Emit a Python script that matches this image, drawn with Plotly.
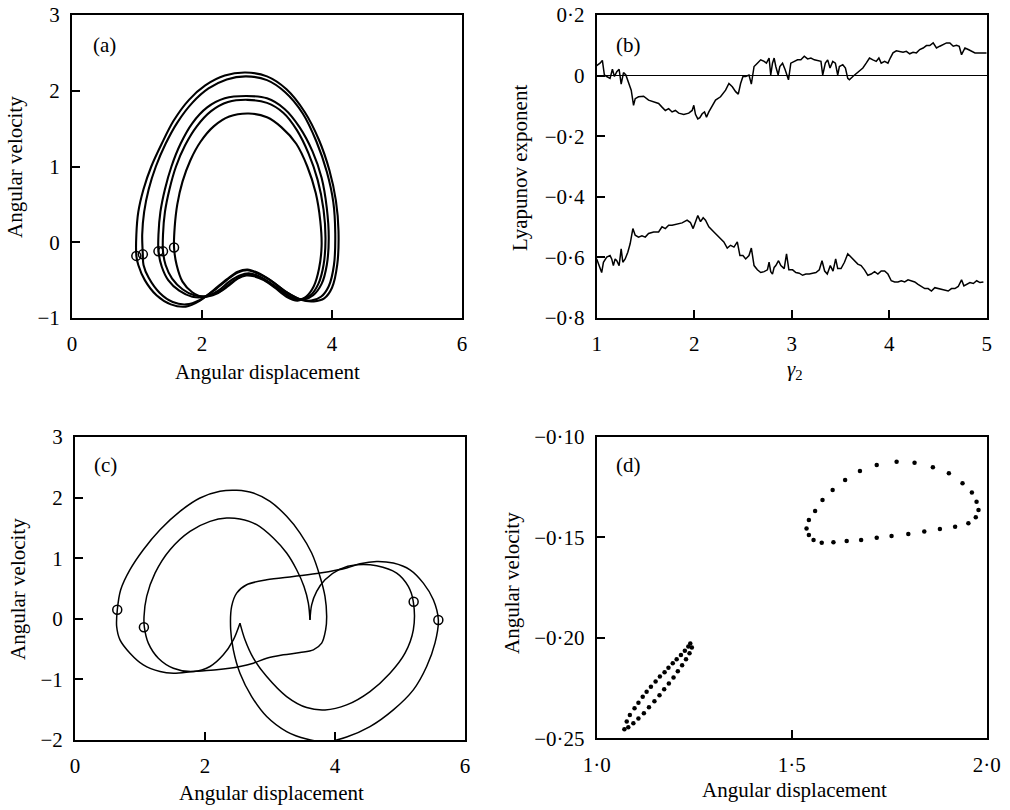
import plotly.graph_objects as go

# ---------------- data ----------------
# (a) phase portrait: five nested loops + Poincare points
a1_x = [0.99,0.99,1.02,1.10,1.22,1.38,1.56,1.80,2.05,2.35,2.67,3.00,3.30,3.58,3.80,3.96,4.06,4.10,4.08,4.00,3.88,3.72,3.52,3.30,3.05,2.85,2.70,2.55,2.38,2.18,1.97,1.75,1.52,1.30,1.12,1.02,0.99]
a1_y = [-0.18,0.10,0.40,0.70,1.00,1.30,1.60,1.88,2.07,2.20,2.24,2.19,2.02,1.72,1.35,0.95,0.55,0.15,-0.30,-0.60,-0.74,-0.78,-0.76,-0.66,-0.50,-0.40,-0.36,-0.39,-0.49,-0.63,-0.77,-0.85,-0.82,-0.70,-0.50,-0.30,-0.18]
a2_x = [1.09,1.08,1.11,1.18,1.29,1.44,1.62,1.85,2.10,2.38,2.68,3.00,3.28,3.55,3.76,3.92,4.02,4.05,4.03,3.95,3.83,3.68,3.50,3.30,3.05,2.85,2.70,2.55,2.38,2.18,1.97,1.76,1.55,1.35,1.18,1.10,1.09]
a2_y = [-0.17,0.10,0.40,0.70,1.00,1.30,1.58,1.84,2.03,2.15,2.19,2.14,1.98,1.70,1.33,0.93,0.53,0.12,-0.30,-0.58,-0.72,-0.77,-0.75,-0.66,-0.50,-0.41,-0.37,-0.40,-0.50,-0.64,-0.76,-0.82,-0.79,-0.67,-0.47,-0.30,-0.17]
a3_x = [1.33,1.33,1.36,1.43,1.53,1.67,1.85,2.08,2.35,2.68,3.00,3.27,3.50,3.70,3.84,3.92,3.95,3.92,3.84,3.71,3.56,3.40,3.22,3.02,2.85,2.72,2.58,2.42,2.25,2.05,1.85,1.65,1.48,1.38,1.33]
a3_y = [-0.12,0.10,0.40,0.70,1.00,1.30,1.57,1.78,1.90,1.93,1.90,1.76,1.52,1.20,0.85,0.45,0.05,-0.30,-0.55,-0.70,-0.76,-0.74,-0.64,-0.52,-0.44,-0.41,-0.44,-0.52,-0.64,-0.72,-0.72,-0.64,-0.50,-0.32,-0.12]
a4_x = [1.40,1.40,1.43,1.50,1.60,1.74,1.92,2.14,2.40,2.70,3.00,3.25,3.46,3.64,3.78,3.87,3.90,3.87,3.79,3.67,3.53,3.38,3.22,3.02,2.86,2.73,2.60,2.44,2.27,2.07,1.88,1.70,1.54,1.44,1.40]
a4_y = [-0.12,0.10,0.40,0.70,1.00,1.28,1.53,1.73,1.85,1.88,1.84,1.71,1.48,1.17,0.82,0.43,0.05,-0.30,-0.55,-0.70,-0.75,-0.73,-0.65,-0.53,-0.45,-0.42,-0.45,-0.54,-0.65,-0.71,-0.70,-0.62,-0.48,-0.30,-0.12]
a5_x = [1.57,1.58,1.62,1.70,1.82,1.98,2.18,2.42,2.72,3.00,3.22,3.45,3.62,3.75,3.82,3.84,3.80,3.72,3.60,3.47,3.30,3.12,2.95,2.80,2.68,2.55,2.40,2.22,2.02,1.85,1.70,1.61,1.57]
a5_y = [-0.07,0.20,0.50,0.80,1.08,1.33,1.53,1.66,1.70,1.65,1.52,1.30,1.00,0.65,0.28,-0.05,-0.35,-0.58,-0.72,-0.77,-0.72,-0.60,-0.50,-0.45,-0.44,-0.48,-0.58,-0.68,-0.72,-0.66,-0.52,-0.30,-0.07]
a_pts_x = [0.99, 1.09, 1.33, 1.40, 1.57]
a_pts_y = [-0.18, -0.16, -0.12, -0.12, -0.07]

# (b) Lyapunov exponents vs gamma_2
b_gamma = [1.000,1.034,1.058,1.079,1.103,1.137,1.161,1.182,1.206,1.230,1.251,1.275,1.299,1.326,1.354,1.378,1.395,1.429,1.481,1.532,1.584,1.635,1.670,1.704,1.738,1.773,1.807,1.841,1.893,1.944,1.979,1.996,2.013,2.037,2.058,2.082,2.106,2.126,2.150,2.185,2.219,2.270,2.322,2.356,2.391,2.425,2.452,2.476,2.500,2.528,2.562,2.586,2.614,2.648,2.682,2.717,2.741,2.768,2.785,2.803,2.820,2.837,2.861,2.878,2.906,2.933,2.967,2.991,3.026,3.060,3.094,3.129,3.163,3.197,3.232,3.266,3.300,3.318,3.345,3.369,3.393,3.421,3.448,3.472,3.489,3.524,3.551,3.575,3.592,3.627,3.661,3.695,3.730,3.764,3.798,3.833,3.867,3.894,3.918,3.953,3.987,4.011,4.039,4.073,4.107,4.142,4.176,4.210,4.245,4.279,4.313,4.348,4.382,4.416,4.451,4.485,4.519,4.554,4.588,4.622,4.657,4.691,4.718,4.742,4.777,4.811,4.845,4.880,4.931,5.000]
b_upper = [0.033,0.041,0.050,0.002,-0.003,-0.009,0.021,-0.003,0.013,0.021,-0.028,0.010,0.002,-0.020,-0.048,-0.098,-0.076,-0.070,-0.068,-0.081,-0.087,-0.092,-0.104,-0.115,-0.109,-0.120,-0.115,-0.124,-0.128,-0.124,-0.115,-0.098,-0.128,-0.143,-0.139,-0.126,-0.120,-0.137,-0.120,-0.098,-0.081,-0.070,-0.048,-0.026,-0.037,-0.053,-0.061,-0.026,-0.003,-0.003,0.002,-0.028,0.030,0.041,0.052,0.047,0.041,0.058,0.002,0.041,0.058,0.030,0.002,0.030,0.041,0.019,-0.014,0.041,0.047,0.052,0.052,0.064,0.055,0.058,0.052,0.049,0.047,0.002,0.041,0.052,0.025,0.047,0.041,0.002,0.030,0.036,0.025,-0.009,-0.014,-0.003,0.006,0.013,0.025,0.041,0.058,0.052,0.047,0.058,0.041,0.047,0.041,0.058,0.075,0.082,0.080,0.077,0.080,0.072,0.077,0.075,0.086,0.091,0.099,0.099,0.108,0.091,0.097,0.103,0.108,0.108,0.097,0.100,0.097,0.069,0.091,0.086,0.080,0.075,0.075,0.075]
b_gamma_low = [1.000,1.024,1.051,1.069,1.103,1.137,1.154,1.171,1.189,1.206,1.230,1.251,1.268,1.292,1.319,1.343,1.371,1.395,1.429,1.464,1.498,1.532,1.584,1.635,1.670,1.704,1.738,1.773,1.824,1.876,1.927,1.961,1.989,2.013,2.037,2.065,2.092,2.116,2.150,2.202,2.253,2.304,2.339,2.373,2.408,2.442,2.469,2.500,2.528,2.562,2.586,2.614,2.648,2.682,2.717,2.751,2.768,2.785,2.803,2.820,2.837,2.865,2.889,2.923,2.947,2.971,3.009,3.043,3.077,3.112,3.146,3.180,3.215,3.249,3.283,3.311,3.338,3.365,3.396,3.424,3.451,3.472,3.506,3.541,3.575,3.609,3.644,3.678,3.712,3.747,3.781,3.815,3.850,3.884,3.918,3.953,3.987,4.021,4.056,4.090,4.124,4.159,4.193,4.227,4.262,4.296,4.330,4.365,4.399,4.433,4.468,4.502,4.536,4.571,4.605,4.639,4.674,4.708,4.742,4.766,4.794,4.828,4.863,4.897,4.931,4.966,5.000]
b_lower = [-0.605,-0.627,-0.650,-0.616,-0.599,-0.594,-0.605,-0.627,-0.605,-0.611,-0.627,-0.572,-0.616,-0.605,-0.583,-0.555,-0.505,-0.527,-0.533,-0.529,-0.533,-0.521,-0.516,-0.516,-0.499,-0.505,-0.494,-0.494,-0.491,-0.486,-0.477,-0.485,-0.505,-0.480,-0.462,-0.482,-0.469,-0.477,-0.499,-0.516,-0.533,-0.549,-0.569,-0.560,-0.566,-0.549,-0.594,-0.594,-0.605,-0.594,-0.569,-0.627,-0.641,-0.650,-0.647,-0.641,-0.616,-0.647,-0.655,-0.633,-0.627,-0.611,-0.627,-0.637,-0.588,-0.641,-0.641,-0.650,-0.652,-0.659,-0.655,-0.655,-0.652,-0.650,-0.641,-0.611,-0.645,-0.655,-0.627,-0.645,-0.605,-0.637,-0.637,-0.616,-0.588,-0.599,-0.611,-0.622,-0.627,-0.641,-0.659,-0.655,-0.647,-0.655,-0.645,-0.645,-0.655,-0.677,-0.681,-0.681,-0.677,-0.681,-0.674,-0.677,-0.681,-0.689,-0.696,-0.703,-0.703,-0.711,-0.700,-0.703,-0.705,-0.708,-0.711,-0.703,-0.703,-0.696,-0.674,-0.694,-0.689,-0.683,-0.686,-0.677,-0.683,-0.681]

# (c) phase portrait: outer loops A, A2 and inner cusped loop B
cA_x = [0.651,0.703,0.846,1.051,1.308,1.615,1.923,2.231,2.487,2.744,3.000,3.256,3.462,3.641,3.769,3.846,3.872,3.856,3.795,3.667,3.462,3.205,2.949,2.744,2.538,2.179,1.821,1.513,1.308,1.051,0.846,0.692,0.641,0.651]
cA_y = [0.149,0.479,0.810,1.140,1.470,1.773,1.993,2.104,2.120,2.076,1.938,1.691,1.415,1.085,0.699,0.369,0.039,-0.182,-0.402,-0.512,-0.556,-0.595,-0.650,-0.732,-0.787,-0.842,-0.870,-0.898,-0.870,-0.760,-0.567,-0.347,-0.127,0.149]
cA2_x = [5.590,5.538,5.410,5.205,4.897,4.538,4.179,3.872,3.564,3.256,2.949,2.718,2.538,2.436,2.395,2.410,2.487,2.641,2.949,3.359,3.769,4.179,4.385,4.641,4.897,5.154,5.359,5.513,5.590]
cA2_y = [-0.017,-0.402,-0.787,-1.173,-1.503,-1.779,-1.950,-2.030,-1.985,-1.861,-1.613,-1.283,-0.898,-0.512,-0.182,0.204,0.424,0.562,0.644,0.699,0.754,0.837,0.909,0.947,0.920,0.809,0.589,0.314,-0.017]
cB1_x = [3.615,3.590,3.523,3.410,3.256,3.051,2.795,2.538,2.333,2.077,1.769,1.462,1.231,1.103,1.062,1.067,1.128,1.282,1.513,1.821,2.077,2.282,2.436,2.538]
cB1_y = [-0.017,0.259,0.534,0.809,1.085,1.333,1.553,1.646,1.663,1.608,1.443,1.140,0.754,0.369,0.039,-0.138,-0.402,-0.650,-0.815,-0.870,-0.787,-0.595,-0.347,-0.072]
cB2_x = [2.538,2.615,2.744,2.949,3.256,3.564,3.846,4.179,4.538,4.846,5.077,5.205,5.205,5.128,4.949,4.641,4.333,4.077,3.846,3.718,3.641,3.615]
cB2_y = [-0.072,-0.347,-0.650,-0.953,-1.283,-1.465,-1.503,-1.421,-1.200,-0.898,-0.567,-0.182,0.281,0.534,0.754,0.876,0.892,0.820,0.644,0.452,0.231,-0.017]
c_pts_x = [0.65, 1.06, 5.21, 5.59]
c_pts_y = [0.15, -0.14, 0.28, -0.02]

# (d) Poincare section: two closed dotted curves
d_up_x = [1.769,1.815,1.862,1.903,1.938,1.962,1.974,1.979,1.972,1.953,1.919,1.880,1.840,1.799,1.756,1.718,1.678,1.641,1.607,1.577,1.556,1.544,1.538,1.544,1.560,1.579,1.605,1.637,1.675,1.718]
d_up_y = [-0.1124,-0.1129,-0.1152,-0.1182,-0.1232,-0.1278,-0.1323,-0.1365,-0.1401,-0.1431,-0.1448,-0.1459,-0.1472,-0.1484,-0.1494,-0.1502,-0.1514,-0.1519,-0.1525,-0.1527,-0.1514,-0.1489,-0.1456,-0.1414,-0.1370,-0.1315,-0.1265,-0.1215,-0.1171,-0.1141]
d_lo_x = [1.071,1.077,1.085,1.097,1.107,1.118,1.128,1.139,1.151,1.162,1.174,1.184,1.195,1.205,1.216,1.226,1.235,1.240,1.244,1.238,1.229,1.219,1.208,1.197,1.185,1.173,1.161,1.148,1.134,1.121,1.107,1.094,1.081]
d_lo_y = [-0.2455,-0.2417,-0.2384,-0.2351,-0.2323,-0.2293,-0.2268,-0.2243,-0.2218,-0.2193,-0.2172,-0.2149,-0.2127,-0.2107,-0.2086,-0.2064,-0.2044,-0.2028,-0.2048,-0.2077,-0.2107,-0.2137,-0.2167,-0.2197,-0.2227,-0.2256,-0.2286,-0.2316,-0.2346,-0.2376,-0.2402,-0.2425,-0.2445]

# tick labels
a_xt = [0, 2, 4, 6]; a_yt = [-1, 0, 1, 2, 3]
a_ytt = ["\u22121", "0", "1", "2", "3"]
b_xt = [1, 2, 3, 4, 5]
b_yt = [0.2, 0, -0.2, -0.4, -0.6, -0.8]
b_ytt = ["0\u00b72", "0", "\u22120\u00b72", "\u22120\u00b74", "\u22120\u00b76", "\u22120\u00b78"]
c_yt = [-2, -1, 0, 1, 2, 3]
c_ytt = ["\u22122", "\u22121", "0", "1", "2", "3"]
d_xt = [1.0, 1.5, 2.0]; d_xtt = ["1\u00b70", "1\u00b75", "2\u00b70"]
d_yt = [-0.10, -0.15, -0.20, -0.25]
d_ytt = ["\u22120\u00b710", "\u22120\u00b715", "\u22120\u00b720", "\u22120\u00b725"]

# ---------------- figure ----------------
FONT = "Liberation Serif, Times New Roman, serif"
W, H = 1010, 810
fig = go.Figure()

def line(x, y, xa, ya, w=1.6, shape="spline"):
    fig.add_trace(go.Scatter(x=x, y=y, mode="lines", xaxis=xa, yaxis=ya,
                             line=dict(color="black", width=w, shape=shape, smoothing=0.9),
                             hoverinfo="skip", showlegend=False))

def circles(x, y, xa, ya):
    fig.add_trace(go.Scatter(x=x, y=y, mode="markers", xaxis=xa, yaxis=ya,
                             marker=dict(symbol="circle-open", size=9, color="black",
                                         line=dict(width=1.5, color="black")),
                             hoverinfo="skip", showlegend=False))

for lx, ly in [(a1_x, a1_y), (a2_x, a2_y), (a3_x, a3_y), (a4_x, a4_y), (a5_x, a5_y)]:
    line(lx, ly, "x", "y", w=2.1)
circles(a_pts_x, a_pts_y, "x", "y")

line(b_gamma, b_upper, "x2", "y2", w=1.5, shape="linear")
line(b_gamma_low, b_lower, "x2", "y2", w=1.5, shape="linear")

for lx, ly in [(cA_x, cA_y), (cA2_x, cA2_y), (cB1_x, cB1_y), (cB2_x, cB2_y)]:
    line(lx, ly, "x3", "y3", w=1.5)
circles(c_pts_x, c_pts_y, "x3", "y3")

for dx, dy in [(d_up_x, d_up_y), (d_lo_x, d_lo_y)]:
    fig.add_trace(go.Scatter(x=dx, y=dy, mode="markers", xaxis="x4", yaxis="y4",
                             marker=dict(size=4.5, color="black"),
                             hoverinfo="skip", showlegend=False))

def px_dom(a, b):
    return [a / W, b / W]

def py_dom(top, bottom):
    return [1 - bottom / H, 1 - top / H]

base = dict(showline=True, linecolor="black", linewidth=2, mirror=True,
            ticks="inside", ticklen=8, tickwidth=1.5, tickcolor="black",
            showgrid=False, zeroline=False, ticklabelstandoff=6, automargin=False,
            tickfont=dict(family=FONT, size=21, color="black"))

fig.update_layout(
    template="none",
    width=W, height=H, margin=dict(l=0, r=0, t=0, b=0, pad=0, autoexpand=False),
    paper_bgcolor="white", plot_bgcolor="white", showlegend=False,
    xaxis=dict(base, domain=px_dom(72, 462), range=[0, 6], anchor="y",
               tickvals=a_xt, ticktext=[str(v) for v in a_xt]),
    yaxis=dict(base, domain=py_dom(15, 318), range=[-1, 3], anchor="x",
               tickvals=a_yt, ticktext=a_ytt),
    xaxis2=dict(base, domain=px_dom(596.7, 986.7), range=[1, 5], anchor="y2",
                tickvals=b_xt, ticktext=[str(v) for v in b_xt]),
    yaxis2=dict(base, domain=py_dom(15, 318), range=[-0.8, 0.2], anchor="x2",
                tickvals=b_yt, ticktext=b_ytt,
                zeroline=True, zerolinecolor="black", zerolinewidth=1.2),
    xaxis3=dict(base, domain=px_dom(75, 465), range=[0, 6], anchor="y3",
                tickvals=a_xt, ticktext=[str(v) for v in a_xt]),
    yaxis3=dict(base, domain=py_dom(437, 740), range=[-2, 3], anchor="x3",
                tickvals=c_yt, ticktext=c_ytt),
    xaxis4=dict(base, domain=px_dom(596.7, 986.7), range=[1.0, 2.0], anchor="y4",
                tickvals=d_xt, ticktext=d_xtt),
    yaxis4=dict(base, domain=py_dom(436.7, 738.3), range=[-0.25, -0.10], anchor="x4",
                tickvals=d_yt, ticktext=d_ytt),
)

def ann(text, xpx, ypx, angle=0, size=21):
    fig.add_annotation(text=text, x=xpx / W, y=1 - ypx / H, xref="paper", yref="paper",
                       showarrow=False, textangle=angle, xanchor="center", yanchor="middle",
                       font=dict(family=FONT, size=size, color="black"))

# axis titles
ann("Angular displacement", 267, 372)
ann("Angular velocity", 15, 167, -90)
ann("<i>\u03b3</i><sub>2</sub>", 795, 370)
ann("Lyapunov exponent", 520, 168, -90)
ann("Angular displacement", 271, 793)
ann("Angular velocity", 18, 589, -90)
ann("Angular displacement", 794, 790)
ann("Angular velocity", 512, 583, -90)
# panel labels
ann("(a)", 104, 45)
ann("(b)", 628, 45)
ann("(c)", 105, 465)
ann("(d)", 628, 465)

fig.write_html("out.html", config={"displayModeBar": False},
               post_script="document.body.style.margin='0';document.body.style.overflow='hidden';")
